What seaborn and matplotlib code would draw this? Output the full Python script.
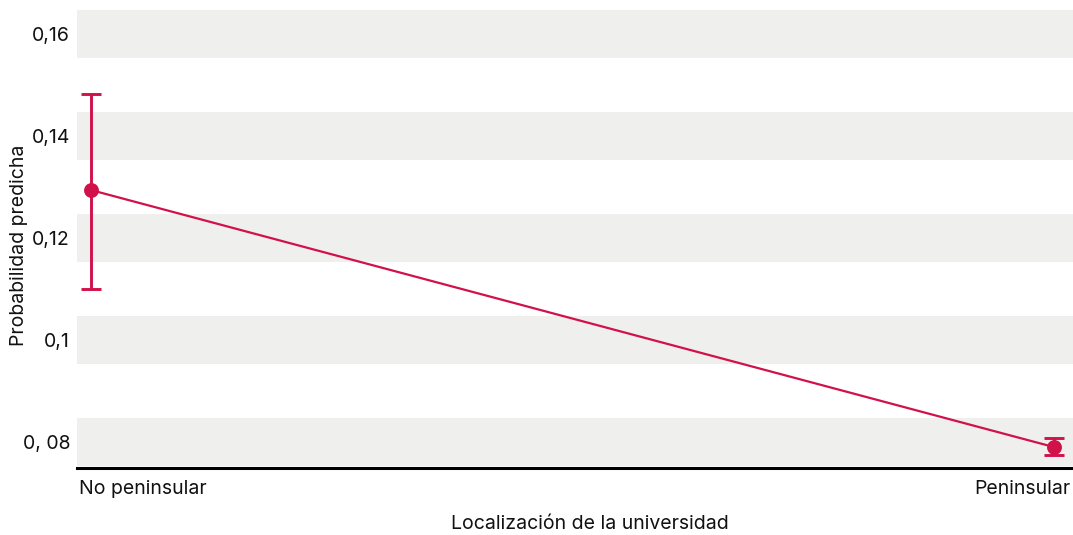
#!/usr/bin/env python3

import numpy as np
import pandas as pd
import seaborn as sns
import matplotlib.pyplot as plt
import matplotlib.transforms as mtransforms

# values
categories = ["No peninsular", "Peninsular"]
probability = [0.1294, 0.0790]
ci_low = [0.1100, 0.0775]
ci_high = [0.1482, 0.0808]
y_ticks = [0.08, 0.10, 0.12, 0.14, 0.16]
y_tick_labels = ["0, 08", "0,1", "0,12", "0,14", "0,16"]

RED = "#D1124A"
BAND = "#EFEFEE"

sns.set_theme(style="white")
plt.rcParams["font.family"] = ["Inter", "DejaVu Sans"]

data = pd.DataFrame({"loc": categories, "prob": probability})

fig = plt.figure(figsize=(10.73, 5.35), dpi=100)
ax = fig.add_axes([77 / 1073, 1 - 468 / 535, 996 / 1073, 459.5 / 535])

# alternating grey bands centred on each tick
for t in y_ticks:
    ax.axhspan(t - 0.0047, t + 0.0047, color=BAND, lw=0, zorder=0)

sns.pointplot(
    data=data, x="loc", y="prob", ax=ax, color=RED, errorbar=None,
    markers="o", markersize=9.5, linewidth=1.6, zorder=3,
)
yerr = np.array([
    np.array(probability) - np.array(ci_low),
    np.array(ci_high) - np.array(probability),
])
ax.errorbar(
    range(len(categories)), probability, yerr=yerr, fmt="none",
    ecolor=RED, elinewidth=2.1, capsize=7.5, capthick=2.1, zorder=2,
)

ax.set_xlim(-0.01454, 1.0197)
ax.set_ylim(0.0749, 0.165)
ax.set_yticks(y_ticks)
ax.set_yticklabels(y_tick_labels)
ax.tick_params(axis="both", length=0, labelsize=14, colors="#111111")
ax.tick_params(axis="y", pad=5)
ax.tick_params(axis="x", pad=9)

# left/right aligned category labels
labels = ax.get_xticklabels()
labels[0].set_horizontalalignment("left")
labels[0].set_transform(labels[0].get_transform()
                        + mtransforms.ScaledTranslation(-12 / 100, 0, fig.dpi_scale_trans))
labels[1].set_horizontalalignment("right")
labels[1].set_transform(labels[1].get_transform()
                        + mtransforms.ScaledTranslation(16 / 100, 0, fig.dpi_scale_trans))

ax.set_xlabel("Localización de la universidad", fontsize=14, color="#111111")
ax.set_ylabel("Probabilidad predicha", fontsize=14, color="#111111")
ax.xaxis.set_label_coords(0.515, -0.102)
ax.yaxis.set_label_coords(-0.049, 0.485)

for side in ["top", "right", "left"]:
    ax.spines[side].set_visible(False)
ax.spines["bottom"].set_color("black")
ax.spines["bottom"].set_linewidth(2.2)
ax.spines["bottom"].set_zorder(5)

fig.savefig("out.png", dpi=100)
